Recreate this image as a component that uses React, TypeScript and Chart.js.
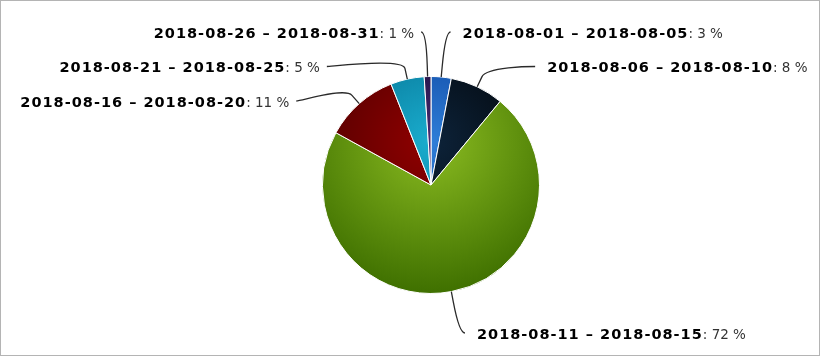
import React, { useEffect, useRef } from "react";
import { Chart, registerables } from "chart.js";

Chart.register(...registerables);

// ---- data ----
const categories = [
  "2018-08-01 – 2018-08-05",
  "2018-08-06 – 2018-08-10",
  "2018-08-11 – 2018-08-15",
  "2018-08-16 – 2018-08-20",
  "2018-08-21 – 2018-08-25",
  "2018-08-26 – 2018-08-31",
];
const shares = [3, 8, 72, 11, 5, 1];
const baseColors = ["#2f7ed8", "#0d233a", "#8bbc21", "#910000", "#1aadce", "#492970"];

// ---- style constants ----
const LABEL_DISTANCE = 46;
const LABEL_GAP = 34.5;
const NAME_FONT = "bold 14.5px 'DejaVu Sans', Verdana, sans-serif";
const NAME_SPACING = "1px";
const VALUE_FONT = "13.5px 'DejaVu Sans', Verdana, sans-serif";

function darken(hex: string, amt: number): string {
  const n = parseInt(hex.slice(1), 16);
  const d = 255 * amt;
  const r = Math.max(0, Math.round(((n >> 16) & 255) - d));
  const g = Math.max(0, Math.round(((n >> 8) & 255) - d));
  const b = Math.max(0, Math.round((n & 255) - d));
  return `rgb(${r},${g},${b})`;
}

const gradientPlugin = {
  id: "radialGrad",
  beforeDatasetsDraw(chart: any) {
    const meta = chart.getDatasetMeta(0);
    const arcs = meta.data as any[];
    if (!arcs.length) return;
    const { x: cx, y: cy, outerRadius: r } = arcs[0];
    const ctx = chart.ctx as CanvasRenderingContext2D;
    arcs.forEach((arc: any, i: number) => {
      const g = ctx.createRadialGradient(cx, cy - 0.4 * r, 0, cx, cy - 0.4 * r, 1.4 * r);
      g.addColorStop(0, baseColors[i]);
      g.addColorStop(1, darken(baseColors[i], 0.3));
      arc.options.backgroundColor = g;
    });
  },
};

const labelPlugin = {
  id: "pieLabels",
  afterDatasetsDraw(chart: any) {
    const meta = chart.getDatasetMeta(0);
    const arcs = meta.data as any[];
    if (!arcs.length) return;
    const { x: cx, y: cy, outerRadius: r } = arcs[0];
    const R = r + LABEL_DISTANCE;
    const total = shares.reduce((a, b) => a + b, 0);
    const ctx = chart.ctx as CanvasRenderingContext2D;

    const items = arcs.map((arc: any, i: number) => {
      const mid = (arc.startAngle + arc.endAngle) / 2;
      const cos = Math.cos(mid);
      const sin = Math.sin(mid);
      return { i, cos, sin, left: cos < 0, natY: cy + R * sin, y: 0, clamped: false };
    });

    const top = cy - R + 1.5;
    const bottom = chart.height - 22;
    [true, false].forEach((side) => {
      const list = items.filter((it) => it.left === side).sort((a, b) => a.natY - b.natY);
      let prev = -Infinity;
      list.forEach((it) => {
        let y = Math.max(it.natY, top, prev + LABEL_GAP);
        if (it.natY < top) it.clamped = true;
        if (y > bottom) {
          y = bottom;
          it.clamped = true;
        }
        it.y = y;
        prev = y;
      });
    });

    ctx.save();
    items.forEach((it) => {
      const sign = it.left ? -1 : 1;
      const dyUse = (it.clamped ? it.natY : it.y) - cy;
      const dx = Math.sqrt(Math.max(R * R - dyUse * dyUse, 0));
      const sx = cx + sign * (dx + 5);
      const y = it.y;
      const bx = cx + (r + 11) * it.cos;
      const by = cy + (r + 11) * it.sin;
      const tx = cx + r * it.cos;
      const ty = cy + r * it.sin;

      ctx.beginPath();
      ctx.moveTo(sx, y);
      ctx.bezierCurveTo(cx + sign * dx, y, 2 * bx - tx, 2 * by - ty, bx, by);
      ctx.lineTo(tx, ty);
      ctx.strokeStyle = "#2a2a2a";
      ctx.lineWidth = 1.3;
      ctx.stroke();

      const name = categories[it.i];
      const value = `: ${Math.round((shares[it.i] / total) * 100)} %`;
      ctx.textBaseline = "middle";
      ctx.textAlign = "left";
      ctx.font = NAME_FONT;
      (ctx as any).letterSpacing = NAME_SPACING;
      const nw = ctx.measureText(name).width;
      ctx.font = VALUE_FONT;
      (ctx as any).letterSpacing = "0px";
      const vw = ctx.measureText(value).width;
      const startX = it.left ? sx - 7 - (nw + vw) : sx + 12;
      const ty2 = y + 2;
      ctx.font = NAME_FONT;
      (ctx as any).letterSpacing = NAME_SPACING;
      ctx.fillStyle = "#000";
      ctx.fillText(name, startX, ty2);
      ctx.font = VALUE_FONT;
      (ctx as any).letterSpacing = "0px";
      ctx.fillStyle = "#333";
      ctx.fillText(value, startX + nw, ty2);
    });
    ctx.restore();
  },
};

export default function App() {
  const canvasRef = useRef<HTMLCanvasElement | null>(null);

  useEffect(() => {
    document.body.style.margin = "0";
    const canvas = canvasRef.current;
    if (!canvas) return;
    const chart = new Chart(canvas, {
      type: "pie",
      data: {
        labels: categories,
        datasets: [
          {
            data: shares,
            backgroundColor: baseColors,
            borderColor: "#ffffff",
            borderWidth: 1,
          },
        ],
      },
      options: {
        responsive: false,
        animation: false,
        events: [],
        devicePixelRatio: 1,
        layout: { padding: { top: 75, left: 321, right: 279, bottom: 61 } },
        plugins: {
          legend: { display: false },
          tooltip: { enabled: false },
        },
      },
      plugins: [gradientPlugin, labelPlugin],
    });
    return () => chart.destroy();
  }, []);

  return (
    <div
      style={{
        width: 820,
        height: 356,
        boxSizing: "border-box",
        border: "1px solid #b4b4b4",
        background: "#fff",
      }}
    >
      <canvas ref={canvasRef} width={818} height={354} style={{ display: "block" }} />
    </div>
  );
}
